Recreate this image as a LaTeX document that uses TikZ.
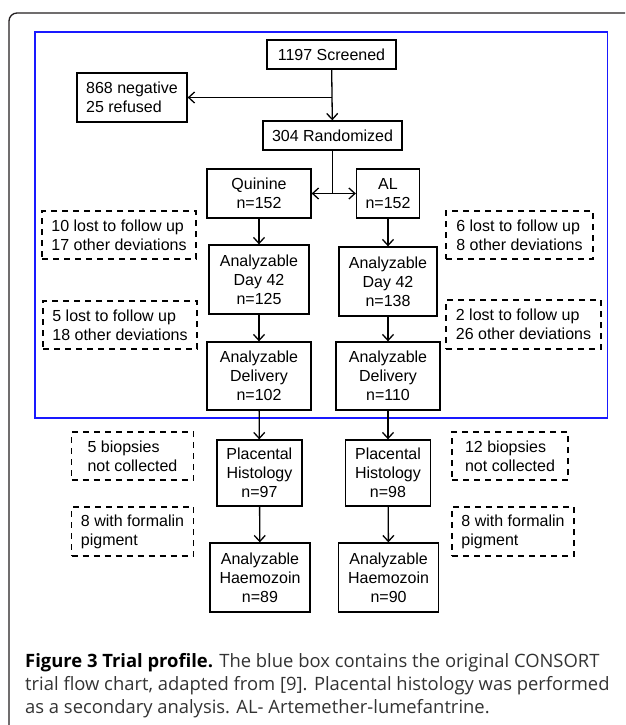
\documentclass[tikz,border=0pt]{standalone}
\usepackage{fontspec}
\setmainfont{Liberation Sans}
\newfontfamily\capfont{Open Sans}
\usetikzlibrary{shapes.geometric, arrows.meta}
\definecolor{framegray}{RGB}{35,31,32}
\definecolor{consortblue}{RGB}{25,25,255}
\tikzstyle{box} = [rectangle, draw, line width=1.3pt, align=center, inner sep=0pt, font=\fontsize{16}{19}\selectfont]
\tikzstyle{note} = [rectangle, draw, dash pattern=on 6pt off 5pt, line width=1.2pt, align=left, inner sep=0pt, font=\fontsize{16}{19}\selectfont]
\tikzstyle{arrow} = [line width=1.3pt,->,>={Straight Barb[length=6pt,width=11pt]}]

\begin{document}
\begin{tikzpicture}[x=1pt,y=-1pt]
    \useasboundingbox (0,0) rectangle (625,725);
    % frame and blue box
    \draw [framegray, line width=1.3pt, rounded corners=8pt] (9,725) -- (9,13) -- (625,13);
    \draw [consortblue, line width=1.6pt] (35,32) rectangle (607.5,418);
    \node [box, minimum width=129pt, minimum height=29pt] at (331.5,54.5) (screen) {1197 Screened};
    \node [box, minimum width=110pt, minimum height=49pt, align=left] at (132,97.5) (excl) {868 negative\\25 refused};
    \node [box, minimum width=139pt, minimum height=29pt] at (332.5,135.5) (rand) {304 Randomized};
    \node [box, minimum width=104pt, minimum height=49pt] at (259,193.5) (quin) {Quinine\\n=152};
    \node [box, minimum width=63pt, minimum height=49pt] at (388,193.5) (al) {AL\\n=152};
    \node [note, minimum width=154pt, minimum height=48pt] at (119,235) (lostqa) {10 lost to follow up\\17 other deviations};
    \node [note, minimum width=147pt, minimum height=48pt] at (519.5,235) (lostaa) {6 lost to follow up\\8 other deviations};
    \node [box, minimum width=100pt, minimum height=69pt] at (259,279.5) (dayq) {Analyzable\\Day 42\\n=125};
    \node [box, minimum width=98pt, minimum height=69pt] at (388,281.5) (daya) {Analyzable\\Day 42\\n=138};
    \node [note, minimum width=154pt, minimum height=48pt] at (120,325) (lostqb) {5 lost to follow up\\18 other deviations};
    \node [note, minimum width=155pt, minimum height=49pt] at (523.5,324.5) (lostab) {2 lost to follow up\\26 other deviations};
    \node [box, minimum width=104pt, minimum height=68pt] at (259,376) (delq) {Analyzable\\Delivery\\n=102};
    \node [box, minimum width=104pt, minimum height=68pt] at (388,376) (dela) {Analyzable\\Delivery\\n=110};
    \node [note, minimum width=122pt, minimum height=48pt] at (132.5,456) (bioq) {5 biopsies\\not collected};
    \node [note, minimum width=116pt, minimum height=48pt] at (510,456) (bioa) {12 biopsies\\not collected};
    \node [box, minimum width=85pt, minimum height=66pt] at (259.4,473) (placq) {Placental\\Histology\\n=97};
    \node [box, minimum width=85pt, minimum height=66pt] at (388,473) (placa) {Placental\\Histology\\n=98};
    \node [note, minimum width=122pt, minimum height=49pt] at (132.5,531.5) (formq) {8 with formalin\\pigment};
    \node [note, minimum width=122pt, minimum height=49pt] at (513,531.5) (forma) {8 with formalin\\pigment};
    \node [box, minimum width=100pt, minimum height=69pt] at (260,577.5) (haemq) {Analyzable\\Haemozoin\\n=89};
    \node [box, minimum width=100pt, minimum height=69pt] at (388.6,577.5) (haema) {Analyzable\\Haemozoin\\n=90};
    \coordinate (split) at (screen.south |- excl.east);
    \coordinate (fork) at (rand.south |- quin.east);
    \draw [arrow] (screen) -- (rand);
    \draw [arrow] (split) -- (excl);
    \draw [line width=1.3pt] (rand) -- (fork);
    \draw [arrow] (fork) -- (quin);
    \draw [arrow] (fork) -- (al);
    \draw [arrow] (quin) -- (dayq);
    \draw [arrow] (al) -- (daya);
    \draw [arrow] (dayq) -- (delq);
    \draw [arrow] (daya) -- (dela);
    \draw [arrow] (delq) -- (placq);
    \draw [arrow] (dela) -- (placa);
    \draw [arrow] (placq) -- (haemq);
    \draw [arrow] (placa) -- (haema);
    % caption
    \node [anchor=north west, align=left, inner sep=0pt, text=black!80, font=\capfont\fontsize{18.4}{23}\selectfont] at (25,653) (caption) {\textbf{\color{black}Figure 3 Trial profile.} The blue box contains the original CONSORT\\trial flow chart, adapted from [9]. Placental histology was performed\\as a secondary analysis. AL- Artemether-lumefantrine.};
\end{tikzpicture}
\end{document}
